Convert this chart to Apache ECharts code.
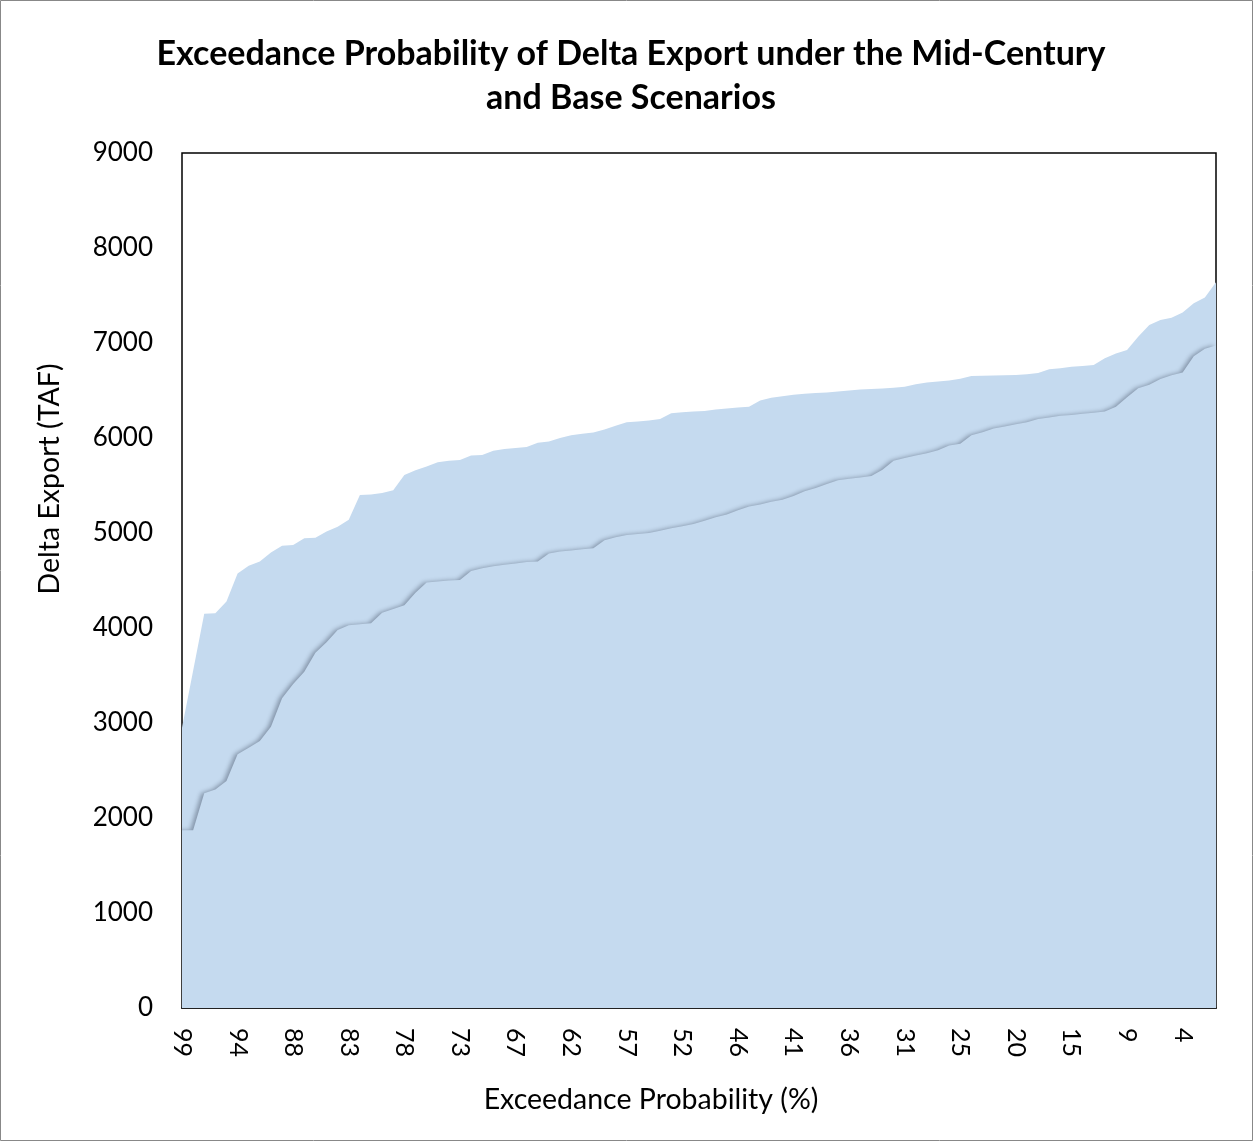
<!DOCTYPE html>
<html>
<head>
<meta charset="utf-8">
<script src="https://cdn.jsdelivr.net/npm/echarts@6/dist/echarts.min.js"></script>
<style>
html,body{margin:0;padding:0;background:#fff;}
#chart{width:1253px;height:1141px;}
</style>
</head>
<body>
<div id="chart"></div>
<script>
var categories = [99,98,97,96,95,94,93,92,91,89,88,87,86,85,84,83,82,81,80,79,78,77,76,75,74,73,72,71,69,68,67,66,65,64,63,62,61,60,59,58,57,56,55,54,53,52,51,49,48,47,46,45,44,43,42,41,40,39,38,37,36,35,34,33,32,31,29,28,27,26,25,24,23,22,21,20,19,18,17,16,15,14,13,12,11,9,8,7,6,5,4,3,2,1];

var upperSeries = [2950,3550,4150,4155,4280,4575,4655,4700,4795,4865,
  4875,4945,4950,5015,5065,5140,5400,5405,5420,5450,
  5610,5660,5700,5745,5760,5768,5815,5822,5865,5885,
  5895,5905,5950,5962,6000,6030,6045,6058,6090,6130,
  6165,6175,6185,6200,6260,6270,6278,6285,6300,6310,
  6320,6330,6395,6425,6440,6455,6465,6475,6480,6490,
  6500,6510,6515,6520,6530,6540,6565,6585,6595,6605,
  6625,6652,6655,6658,6660,6663,6670,6685,6725,6735,
  6750,6758,6768,6840,6890,6926,7065,7190,7242,7266,
  7320,7418,7480,7640];

var lowerSeries = [1870,1870,2260,2300,2390,2670,2740,2810,2960,3260,
  3410,3540,3740,3850,3980,4030,4040,4050,4160,4200,
  4240,4370,4480,4490,4500,4505,4600,4630,4650,4665,
  4680,4695,4700,4785,4805,4815,4830,4840,4925,4955,
  4980,4990,5000,5025,5050,5070,5095,5130,5165,5195,
  5240,5280,5300,5330,5350,5390,5440,5475,5515,5555,
  5570,5585,5600,5665,5760,5790,5815,5840,5870,5920,
  5940,6030,6060,6100,6120,6145,6165,6200,6215,6235,
  6242,6255,6265,6280,6330,6430,6525,6560,6620,6660,
  6690,6860,6940,6975];

var titleText = 'Exceedance Probability of Delta Export under the Mid-Century\nand Base Scenarios';
var yName = 'Delta Export (TAF)';
var xName = 'Exceedance Probability (%)';

var FONT = 'Lato, "Open Sans", sans-serif';
var fill = '#c5daef';

var chart = echarts.init(document.getElementById('chart'), null, {renderer:'canvas'});
chart.setOption({
  animation: false,
  backgroundColor: '#fff',
  title: {
    text: titleText,
    left: 626,
    textAlign: 'center',
    top: 27,
    textStyle: {fontFamily: FONT, fontSize: 34, fontWeight: 'bold', color: '#000', lineHeight: 44}
  },
  grid: {left: 182, right: 37, top: 153, bottom: 133, show: true, borderColor: '#000', borderWidth: 1.5, backgroundColor: 'transparent'},
  xAxis: {
    type: 'category',
    data: categories,
    boundaryGap: false,
    axisLine: {show: true, lineStyle: {color: '#222', width: 2}},
    axisTick: {show: false},
    axisLabel: {interval: 4, rotate: -90, margin: 20, fontFamily: FONT, fontSize: 25, color: '#000'},
    splitLine: {show: false}
  },
  yAxis: {
    type: 'value',
    min: 0, max: 9000, interval: 1000,
    axisLine: {show: false},
    axisTick: {show: false},
    axisLabel: {margin: 29, fontFamily: FONT, fontSize: 26, color: '#000', formatter: function (v) { return String(v); }},
    splitLine: {show: false}
  },
  graphic: [
    {type: 'rect', shape: {x: 0.5, y: 0.5, width: 1252, height: 1140}, style: {fill: 'none', stroke: '#888', lineWidth: 1}, silent: true, z: 100},
    {type: 'text', x: 50, y: 479, rotation: Math.PI/2, style: {text: yName, fontFamily: FONT, fontSize: 28.5, fill: '#000', align: 'center', verticalAlign: 'middle'}},
    {type: 'text', x: 651, y: 1100, style: {text: xName, fontFamily: FONT, fontSize: 28.5, fill: '#000', align: 'center', verticalAlign: 'middle'}}
  ],
  series: [
    {
      type: 'line', data: upperSeries, symbol: 'none', z: 2,
      lineStyle: {width: 0, color: fill},
      itemStyle: {color: fill},
      areaStyle: {color: fill, opacity: 1}
    },
    {
      type: 'line', data: lowerSeries, symbol: 'none', z: 3,
      lineStyle: {width: 0, color: fill},
      itemStyle: {color: fill},
      areaStyle: {color: fill, opacity: 1, shadowColor: 'rgba(20,30,50,0.35)', shadowBlur: 4, shadowOffsetX: -3, shadowOffsetY: 0}
    }
  ]
});
</script>
</body>
</html>
